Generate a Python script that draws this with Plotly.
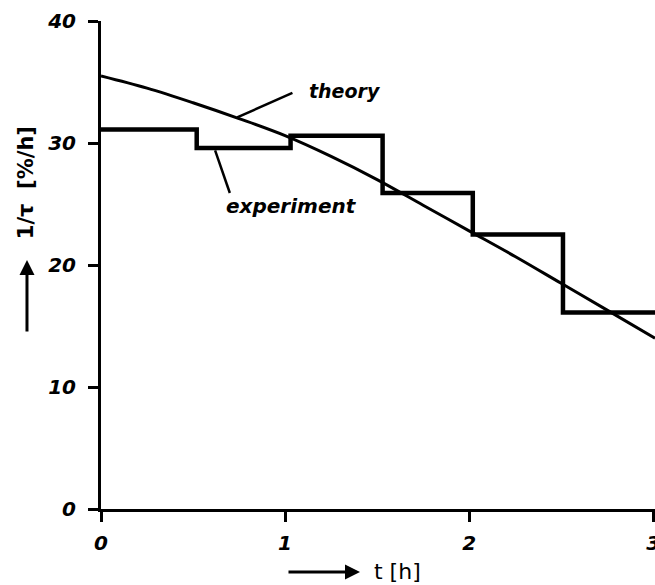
import plotly.graph_objects as go

# Data
theory_t = [0.0, 0.25, 0.5, 0.75, 1.0, 1.25, 1.5, 1.75, 2.0, 2.25, 2.5, 2.75, 3.01]
theory_v = [35.5, 34.5, 33.3, 32.0, 30.6, 28.9, 27.0, 24.9, 22.8, 20.7, 18.5, 16.3, 14.0]

exp_t = [0.0, 0.52, 1.03, 1.53, 2.02, 2.51, 3.01]
exp_v = [31.1, 29.6, 30.6, 25.9, 22.5, 16.1, 16.1]

x_ticks = [0, 1, 2, 3]
y_ticks = [0, 10, 20, 30, 40]

# leader lines (data coords)
theory_leader_t = [0.74, 1.04]
theory_leader_v = [32.1, 34.1]
exp_leader_t = [0.62, 0.70]
exp_leader_v = [29.4, 25.9]

FONT = "DejaVu Sans"

fig = go.Figure()
fig.add_trace(go.Scatter(x=theory_t, y=theory_v, mode="lines",
                         line=dict(color="black", width=3, shape="spline"),
                         name="theory", showlegend=False))
fig.add_trace(go.Scatter(x=exp_t, y=exp_v, mode="lines",
                         line=dict(color="black", width=4.5, shape="hv"),
                         name="experiment", showlegend=False))

fig.add_shape(type="line", xref="x", yref="y",
              x0=theory_leader_t[0], y0=theory_leader_v[0],
              x1=theory_leader_t[1], y1=theory_leader_v[1],
              line=dict(color="black", width=2.5))
fig.add_shape(type="line", xref="x", yref="y",
              x0=exp_leader_t[0], y0=exp_leader_v[0],
              x1=exp_leader_t[1], y1=exp_leader_v[1],
              line=dict(color="black", width=2.5))

label_font = dict(family=FONT, size=19, color="black", weight="bold", style="italic")
fig.add_annotation(x=1.12, y=34.3, xref="x", yref="y", text="theory",
                   showarrow=False, xanchor="left", yanchor="middle", font=label_font)
fig.add_annotation(x=0.67, y=24.8, xref="x", yref="y", text="experiment",
                   showarrow=False, xanchor="left", yanchor="middle",
                   font=dict(family=FONT, size=20, color="black", weight="bold", style="italic"))

title_font = dict(family=FONT, size=21, color="black", weight="bold")
# y-axis title with arrow
fig.add_annotation(x=-0.135, y=0.668, xref="paper", yref="paper",
                   text="1/τ&nbsp;&nbsp;[%/h]", textangle=-90,
                   xanchor="center", yanchor="middle",
                   showarrow=False, font=title_font)
fig.add_annotation(x=-0.1336, y=0.51, xref="paper", yref="paper", text="",
                   showarrow=True, ax=0, ay=73, arrowhead=2, arrowsize=1,
                   arrowwidth=3, arrowcolor="black")
# x-axis title with arrow
fig.add_annotation(x=0.4675, y=-0.129, xref="paper", yref="paper", text="",
                   showarrow=True, ax=-73, ay=0, arrowhead=2, arrowsize=1,
                   arrowwidth=3, arrowcolor="black")
fig.add_annotation(x=0.489, y=-0.129, xref="paper", yref="paper",
                   text="t&nbsp;[h]", showarrow=False, xanchor="left",
                   yanchor="middle", font=dict(family=FONT, size=22, color="black"))

tick_font = dict(family=FONT, size=20, color="black", weight="bold", style="italic")
fig.update_xaxes(range=[0, 3.01], tickvals=x_ticks, ticktext=[str(v) for v in x_ticks],
                 showline=True, linecolor="black", linewidth=3,
                 ticks="outside", ticklen=10, tickwidth=3, tickcolor="black",
                 showgrid=False, zeroline=False, tickfont=tick_font,
                 ticklabelstandoff=4, ticklabeloverflow="allow", automargin=False)
fig.update_yaxes(range=[0, 40], tickvals=y_ticks, ticktext=[str(v) for v in y_ticks],
                 showline=True, linecolor="black", linewidth=3,
                 ticks="outside", ticklen=10, tickwidth=3, tickcolor="black",
                 showgrid=False, zeroline=False, tickfont=tick_font,
                 ticklabelstandoff=8, automargin=False)

fig.update_layout(width=655, height=585,
                  margin=dict(l=101, r=0, t=21, b=76, pad=0, autoexpand=False),
                  plot_bgcolor="white", paper_bgcolor="white",
                  showlegend=False)

fig.write_html("out.html", config={"displayModeBar": False},
               post_script="document.body.style.margin='0';")
